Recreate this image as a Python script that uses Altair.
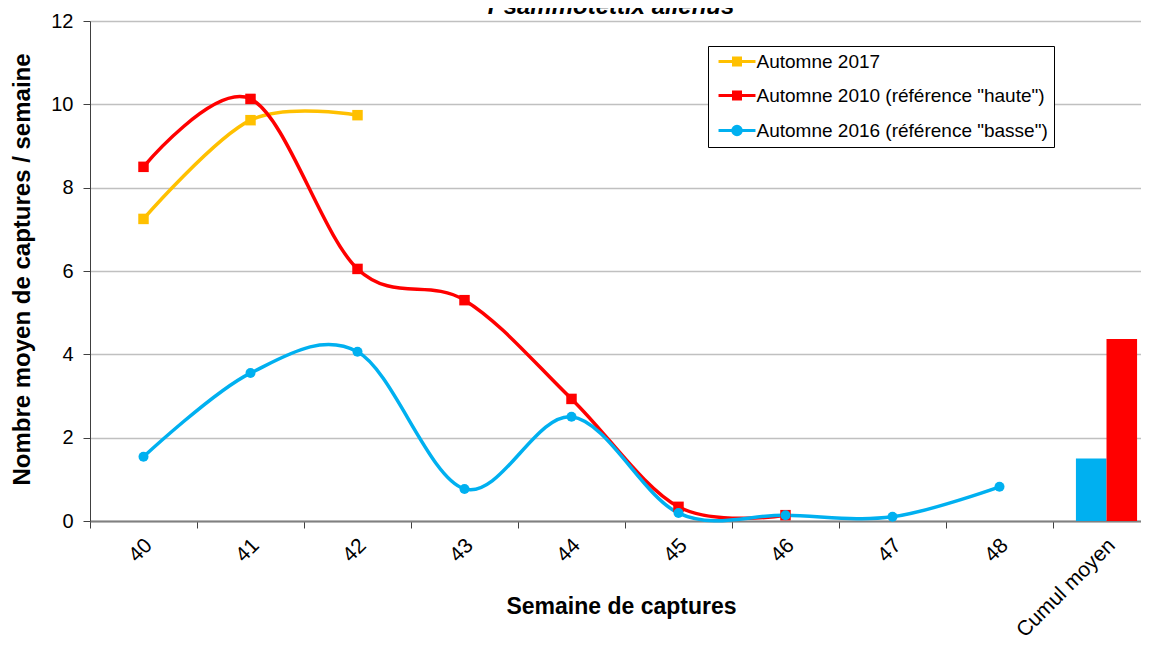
import altair as alt
import pandas as pd

FONT = "Liberation Sans"

TITLE = "Psammotettix alienus"
S17 = "Automne 2017"
S10 = 'Automne 2010 (référence "haute")'
S16 = 'Automne 2016 (référence "basse")'
series_order = [S17, S10, S16]
series_colors = ["#FFC000", "#FF0000", "#00B0F0"]

categories = ["40", "41", "42", "43", "44", "45", "46", "47", "48", "Cumul moyen"]

weeks_2017 = ["40", "41", "42"]
values_2017 = [7.25, 9.62, 9.74]

weeks_2010 = ["40", "41", "42", "43", "44", "45", "46"]
values_2010 = [8.5, 10.13, 6.05, 5.3, 2.93, 0.34, 0.14]

weeks_2016 = ["40", "41", "42", "43", "44", "45", "46", "47", "48"]
values_2016 = [1.54, 3.55, 4.06, 0.77, 2.5, 0.19, 0.14, 0.1, 0.82]

cumul_series = [S16, S10]
cumul_values = [1.5, 4.37]

y_ticks = [0, 2, 4, 6, 8, 10, 12]

rows = []
for s, ws, vs in [(S17, weeks_2017, values_2017), (S10, weeks_2010, values_2010), (S16, weeks_2016, values_2016)]:
    for w, v in zip(ws, vs):
        rows.append({"week": w, "value": v, "series": s})
lines_df = pd.DataFrame(rows)
bars_df = pd.DataFrame({"week": ["Cumul moyen"] * 2, "value": cumul_values, "series": cumul_series})
legend_df = pd.DataFrame({"week": ["40"] * 3, "value": [-5.0] * 3, "series": series_order})
title_df = pd.DataFrame({"t": [TITLE]})

# legend symbols: a line with a square / a dot on it (unit path, scaled by the legend symbol size)
legend_paths = [
    "M-2.64,0H2.64M-0.5,-0.5H0.5V0.5H-0.5Z",
    "M-2.64,0H2.64M-0.5,-0.5H0.5V0.5H-0.5Z",
    "M-2.64,0H2.64M-0.6,0A0.6,0.6,0,1,1,0.6,0A0.6,0.6,0,1,1,-0.6,0Z",
]

xscale = alt.Scale(type="band", domain=categories, paddingInner=0, paddingOuter=0, range=[0, 1070])
yscale = alt.Scale(domain=[0, 12], nice=False, zero=True)
# marks' colour scale (domain listed in another order so it stays apart from the legend's scales)
mark_domain = [S10, S16, S17]
mark_range = [series_colors[series_order.index(s)] for s in mark_domain]
cscale = alt.Scale(domain=mark_domain, range=mark_range)

x_axis = alt.Axis(
    title="Semaine de captures", labelAngle=-45, labelAlign="right", labelBaseline="middle",
    labelPadding=14, labelOffset=5, labelFontSize=21, labelFont=FONT, labelColor="black",
    tickBand="extent", tickSize=7, tickColor="#404040", domainColor="#808080", domainWidth=2,
    grid=False, titleFont=FONT, titleFontSize=23, titleFontWeight="bold", titleColor="black",
    titleX=531, titleY=85, titleBaseline="middle", titleAlign="center",
)
y_axis = alt.Axis(
    title="Nombre moyen de captures / semaine", values=y_ticks, grid=True,
    gridColor="#C0C0C0", gridWidth=1.5, domainColor="#404040", tickColor="#404040",
    tickSize=7, labelFontSize=20, labelFont=FONT, labelColor="black", labelPadding=10,
    titleFont=FONT, titleFontSize=24, titleFontWeight="bold", titleColor="black",
    titleX=-68, titleY=248, titleBaseline="middle", titleAlign="center", titleAngle=-90,
)

X = alt.X("week:N", scale=xscale, axis=x_axis, bandPosition=0.5)
Y = alt.Y("value:Q", scale=yscale, axis=y_axis)
C = alt.Color("series:N", scale=cscale, legend=None)

lines = alt.Chart(lines_df).mark_line(interpolate="cardinal", strokeWidth=3.5).encode(
    x=X, y=Y, color=C, detail="series:N"
)
squares = alt.Chart(lines_df).transform_filter(
    alt.FieldOneOfPredicate(field="series", oneOf=[S17, S10])
).mark_point(filled=True, shape="square", size=110, opacity=1).encode(x=X, y=Y, color=C)
circles = alt.Chart(lines_df).transform_filter(
    alt.FieldEqualPredicate(field="series", equal=S16)
).mark_point(filled=True, shape="circle", size=100, opacity=1).encode(x=X, y=Y, color=C)

bars = alt.Chart(bars_df).mark_bar().encode(
    x=alt.X("week:N", scale=xscale, axis=x_axis),
    xOffset=alt.XOffset("series:N", scale=alt.Scale(domain=cumul_series, paddingInner=0, paddingOuter=0.75)),
    y=Y,
    color=C,
)

leg = alt.Legend(
    title=None, orient="none", legendX=618, legendY=25, strokeColor="black", fillColor="white",
    padding=6, labelFont=FONT, labelFontSize=19, labelColor="black", labelOffset=10, labelLimit=0,
    symbolSize=196, symbolStrokeWidth=3, symbolOffset=13.5, rowPadding=14, symbolOpacity=1,
)
legend_layer = alt.Chart(legend_df).mark_point(filled=True, clip=True, strokeWidth=3, opacity=1).encode(
    x=X, y=Y,
    fill=alt.Fill("series:N", scale=alt.Scale(domain=series_order, range=series_colors), legend=leg),
    stroke=alt.Stroke("series:N", scale=alt.Scale(domain=series_order, range=series_colors), legend=leg),
    shape=alt.Shape("series:N", scale=alt.Scale(domain=series_order, range=legend_paths), legend=leg),
)

# chart title, partly above the top edge as in the reference
title_layer = alt.Chart(title_df).mark_text(
    font=FONT, fontSize=24, fontWeight="bold", fontStyle="italic", align="center",
    baseline="alphabetic", color="black",
).encode(text="t:N", x=alt.value(521), y=alt.value(-7))

chart = alt.layer(bars, lines, squares, circles, legend_layer, title_layer).properties(
    width=1051, height=500,
    autosize=alt.AutoSizeParams(type="none"),
    padding={"left": 82, "top": 13, "right": 0, "bottom": 117},
).configure_view(stroke=None)

chart.save("out.html", embed_options={"renderer": "svg", "actions": False})
